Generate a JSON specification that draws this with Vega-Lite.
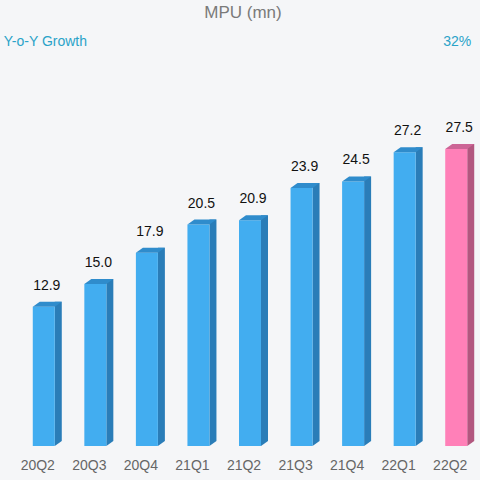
{
  "$schema": "https://vega.github.io/schema/vega-lite/v6.json",
  "width": 464,
  "height": 396,
  "autosize": "none",
  "padding": {"left": 18, "top": 50, "right": 0, "bottom": 34},
  "background": "#f5f6f8",
  "config": {
    "view": {"stroke": null},
    "font": "Liberation Sans"
  },
  "title": {
    "text": "MPU (mn)",
    "fontSize": 17,
    "fontWeight": "normal",
    "color": "#7a7a7a",
    "anchor": "middle",
    "frame": "group",
    "dx": -7,
    "offset": 13
  },
  "data": {
    "values": [
      {"quarter": "20Q2", "mpu": 12.9, "yoy": null},
      {"quarter": "20Q3", "mpu": 15.0, "yoy": null},
      {"quarter": "20Q4", "mpu": 17.9, "yoy": null},
      {"quarter": "21Q1", "mpu": 20.5, "yoy": null},
      {"quarter": "21Q2", "mpu": 20.9, "yoy": null},
      {"quarter": "21Q3", "mpu": 23.9, "yoy": null},
      {"quarter": "21Q4", "mpu": 24.5, "yoy": null},
      {"quarter": "22Q1", "mpu": 27.2, "yoy": null},
      {"quarter": "22Q2", "mpu": 27.5, "yoy": "32%"}
    ]
  },
  "encoding": {
    "x": {
      "field": "quarter",
      "type": "ordinal",
      "sort": null,
      "scale": {"padding": 0},
      "axis": {
        "title": null,
        "domain": false,
        "ticks": false,
        "labelAngle": 0,
        "labelFontSize": 14,
        "labelColor": "#666666",
        "labelPadding": 12,
        "labelOffset": -6
      }
    },
    "y": {
      "field": "mpu",
      "type": "quantitative",
      "scale": {"domain": [0, 36.67], "nice": false},
      "axis": null
    }
  },
  "layer": [
    {
      "mark": {"type": "bar", "size": 7, "xOffset": 14.5, "yOffset": -5, "y2Offset": -5},
      "encoding": {
        "color": {
          "condition": {"test": "datum.quarter === '22Q2'", "value": "#b2577f"},
          "value": "#2a7db8"
        }
      }
    },
    {
      "mark": {"type": "point", "shape": "M 11 -5 L 11 0 L 18 -5 Z", "size": 4, "filled": true, "strokeWidth": 0, "opacity": 1},
      "encoding": {
        "y": {"datum": 0},
        "color": {
          "condition": {"test": "datum.quarter === '22Q2'", "value": "#b2577f"},
          "value": "#2a7db8"
        }
      }
    },
    {
      "mark": {"type": "bar", "size": 22},
      "encoding": {
        "color": {
          "condition": {"test": "datum.quarter === '22Q2'", "value": "#ff80b8"},
          "value": "#42adf0"
        }
      }
    },
    {
      "mark": {"type": "point", "shape": "M -11 0 L 11 0 L 18 -5 L -4 -5 Z", "size": 4, "filled": true, "strokeWidth": 0, "opacity": 1},
      "encoding": {
        "color": {
          "condition": {"test": "datum.quarter === '22Q2'", "value": "#cc6596"},
          "value": "#2f8ccc"
        }
      }
    },
    {
      "mark": {"type": "text", "fontSize": 14, "baseline": "alphabetic", "dy": -17, "dx": 3, "color": "#111111"},
      "encoding": {
        "text": {"field": "mpu", "type": "quantitative", "format": ".1f"}
      }
    },
    {
      "transform": [{"filter": "datum.quarter === '20Q2'"}],
      "mark": {"type": "text", "fontSize": 14, "align": "left", "baseline": "middle", "dx": -40, "color": "#2aa3c8"},
      "encoding": {
        "y": {"datum": 37.4, "type": "quantitative"},
        "text": {"value": "Y-o-Y Growth"}
      }
    },
    {
      "transform": [{"filter": "isValid(datum.yoy)"}],
      "mark": {"type": "text", "fontSize": 14, "align": "right", "baseline": "middle", "dx": 15, "color": "#2aa3c8"},
      "encoding": {
        "y": {"datum": 37.4, "type": "quantitative"},
        "text": {"field": "yoy", "type": "nominal"}
      }
    }
  ]
}
